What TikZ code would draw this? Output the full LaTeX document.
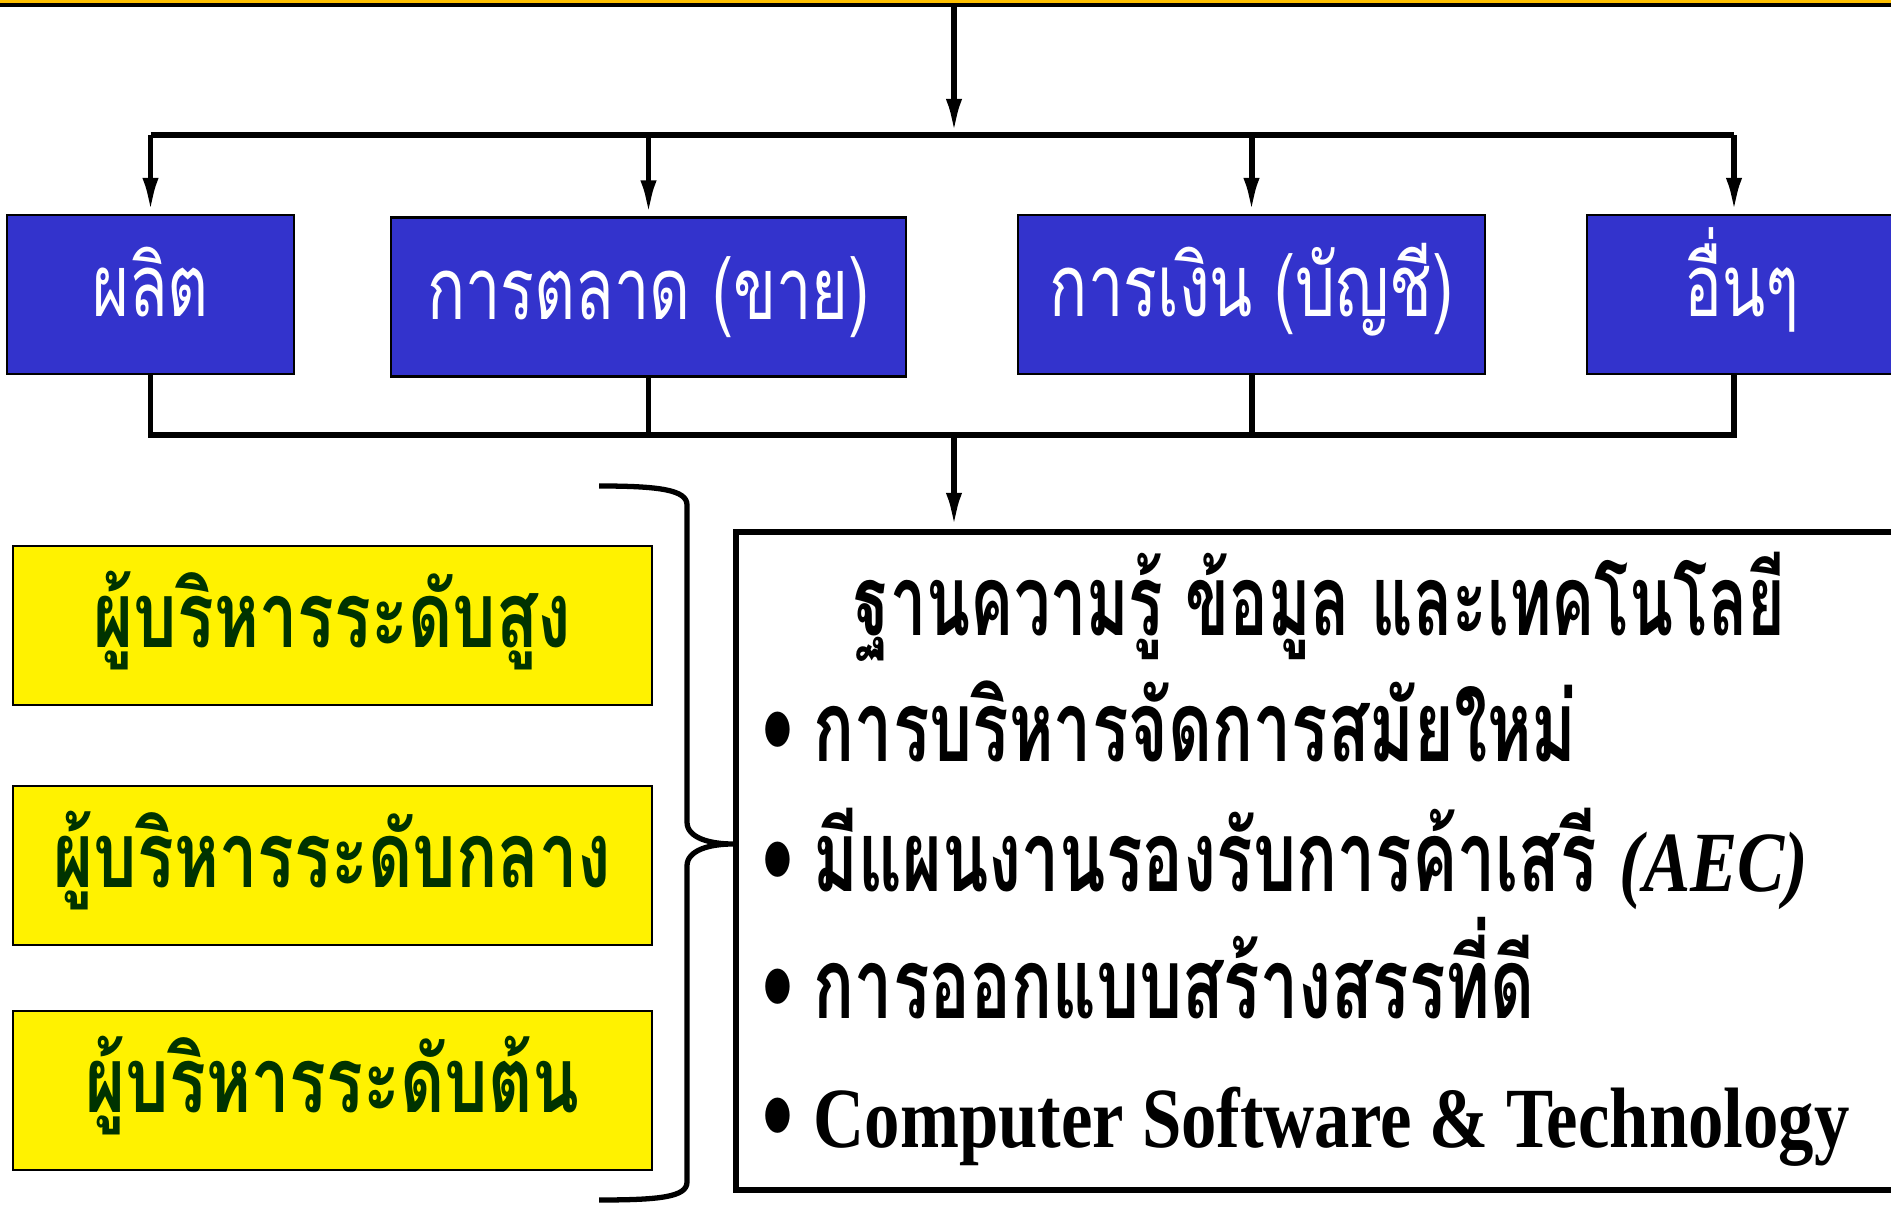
\documentclass[tikz,border=0pt]{standalone}
\usepackage{fontspec}
\setmainfont{Liberation Serif}
\newfontfamily\deptfont[Script=Thai,FakeStretch=0.73]{Loma}
\newfontfamily\levelfont[Script=Thai,FakeStretch=0.75]{Loma}
\newfontfamily\itemfont[Script=Thai,FakeStretch=0.69]{Loma}
\newfontfamily\titlefont[Script=Thai,FakeStretch=0.655]{Loma}
\newfontfamily\latinfont[FakeStretch=0.825]{Liberation Serif}
\usetikzlibrary{arrows.meta, positioning}

\definecolor{deptblue}{RGB}{51,51,204}
\definecolor{levelgreen}{RGB}{0,51,0}
\definecolor{topgold}{RGB}{255,192,0}

\tikzset{
  dept/.style = {draw=black, line width=0.6pt, fill=deptblue, text=white,
    inner sep=0pt, minimum height=1.59cm, text height=0.7cm, text depth=0.25cm,
    font=\deptfont\fontsize{24.6}{26}\selectfont},
  level/.style = {draw=black, line width=0.6pt, fill=yellow, text=levelgreen,
    inner sep=0pt, minimum width=6.39cm, minimum height=1.59cm,
    text height=0.7cm, text depth=0.25cm,
    font=\levelfont\bfseries\fontsize{26}{28}\selectfont},
  item/.style = {inner sep=0pt, anchor=base west,
    font=\itemfont\bfseries\fontsize{28}{30}\selectfont},
  link/.style = {line width=1.7pt},
  arr/.style = {link, -{Latex[length=0.36cm,width=0.16cm]}},
}

\begin{document}
\begin{tikzpicture}
  \useasboundingbox (0,0) rectangle (18.91,-12.05);

  % top band
  \fill[topgold] (0,0) rectangle (18.91,-0.03);
  \fill[black] (0,-0.03) rectangle (18.91,-0.075);

  % departments
  \node[dept, minimum width=2.87cm] (prod)  at (1.505,-2.945) {ผลิต};
  \node[dept, minimum width=5.15cm] (mkt)   at (6.485,-2.97)  {การตลาด (ขาย)};
  \node[dept, minimum width=4.67cm] (fin)   at (12.515,-2.945) {การเงิน (บัญชี)};
  \node[dept, minimum width=3.10cm] (other) at (17.42,-2.945) {อื่นๆ};

  \coordinate (src)  at (9.54,-0.07);
  \coordinate (hub)  at (9.54,-1.35);
  \coordinate (hubB) at (9.54,-4.35);
  \coordinate (col4) at (17.34,-1.35);

  % distribution
  \draw[arr] (src) -- (hub);
  \draw[link] (prod.north |- hub) -- (col4);
  \draw[arr] (prod.north |- hub) -- (prod.north);
  \draw[arr] (mkt.north |- hub) -- (mkt.north);
  \draw[arr] (fin.north |- hub) -- (fin.north);
  \draw[arr] (col4) -- (col4 |- other.north);

  % collection
  \draw[link] (prod.south) -- (prod.south |- hubB) -- (col4 |- hubB) -- (col4 |- other.south);
  \draw[link] (mkt.south) -- (mkt.south |- hubB);
  \draw[link] (fin.south) -- (fin.south |- hubB);

  % knowledge box
  \node[draw, line width=1.8pt, minimum width=11.84cm, minimum height=6.58cm,
    inner sep=0pt] (kbox) at (13.28,-8.61) {};
  \draw[arr] (hubB) -- (hubB |- kbox.north);

  \node[item, anchor=base, font=\titlefont\bfseries\fontsize{28}{30}\selectfont] (title)
    at (13.20,-6.36) {ฐานความรู้ ข้อมูล และเทคโนโลยี};
  \node[item] (i1) at (7.62,-7.62) {\textbullet\hspace{0.2em}การบริหารจัดการสมัยใหม่};
  \node[item] (i2) at (7.62,-8.92) {\textbullet\hspace{0.2em}มีแผนงานรองรับการค้าเสรี {\latinfont\bfseries\itshape\fontsize{24.4}{26}\selectfont (AEC)}};
  \node[item] (i3) at (7.62,-10.19) {\textbullet\hspace{0.2em}การออกแบบสร้างสรรที่ดี};
  \node[item] (i4) at (7.62,-11.48) {\textbullet\hspace{0.2em}{\latinfont\bfseries\fontsize{24.4}{26}\selectfont Computer Software \& Technology}};

  % management levels
  \node[level] (lvtop) at (3.325,-6.255)  {ผู้บริหารระดับสูง};
  \node[level] (lvmid) at (3.325,-8.655)  {ผู้บริหารระดับกลาง};
  \node[level] (lvlow) at (3.325,-10.905) {ผู้บริหารระดับต้น};

  % brace
  \draw[line width=1.5pt] (5.99,-4.86) .. controls (6.6,-4.86) and (6.87,-4.9) .. (6.87,-5.05)
    -- (6.87,-8.22) .. controls (6.87,-8.38) and (7.1,-8.44) .. (7.33,-8.44)
    .. controls (7.1,-8.44) and (6.87,-8.5) .. (6.87,-8.66)
    -- (6.87,-11.82) .. controls (6.87,-11.97) and (6.6,-12.0) .. (5.99,-12.0);
\end{tikzpicture}
\end{document}
